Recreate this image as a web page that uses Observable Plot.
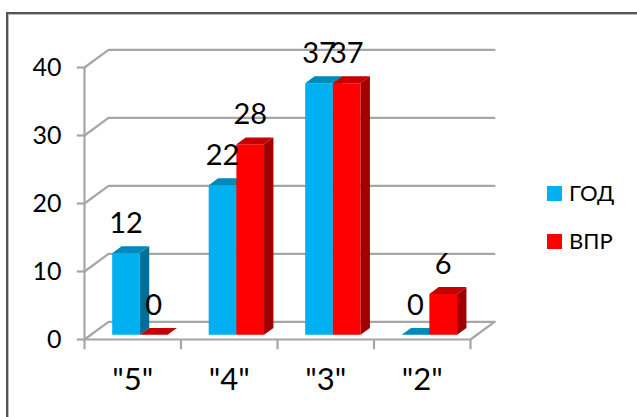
<!DOCTYPE html>
<html><head><meta charset="utf-8">
<script src="https://cdn.jsdelivr.net/npm/d3@7"></script>
<script src="https://cdn.jsdelivr.net/npm/@observablehq/plot@0.6"></script>
<style>
html,body{margin:0;padding:0;background:#fff;}
#c{width:637px;height:417px;overflow:hidden;position:relative;font-family:Lato,'Open Sans',sans-serif;}
#c svg{position:absolute;left:0;top:0;}
.f1{position:absolute;left:6px;top:12px;right:-4px;bottom:-4px;border-left:2px solid #555;border-top:2px solid #555;}
.f2{position:absolute;left:8px;top:14px;right:-4px;bottom:-4px;border-left:1px solid #bdbdbd;border-top:1px solid #bdbdbd;}
.lg{position:absolute;left:547px;display:flex;align-items:center;height:20px;font-size:22px;color:#000;line-height:20px;}
.lg i{display:block;width:15px;height:15px;margin-right:7px;}
</style></head><body><div id="c"><div class="f1"></div><div class="f2"></div></div>
<script>
const categories = ['"5"','"4"','"3"','"2"'];
const god = [12,22,37,0];
const vpr = [0,28,37,6];
const yTicks = [0,10,20,30,40];
const seriesNames = ["ГОД","ВПР"];
const colors = {
  "ГОД":{front:"#00b0f0",top:"#0089bb",side:"#006f98"},
  "ВПР":{front:"#ff0000",top:"#c60000",side:"#a00000"}
};
const gridColor = "#a6a6a6";
// depth 1 = full floor depth, expressed in data units
const depthX = 24/96.5, depthY = 17.6/6.8;
const P = (x,y,d)=>({x:x+d*depthX,y:y+d*depthY});
const poly = (id,fill,pts)=>pts.map(p=>({id,fill,...p}));
const barW = 0.287, start = 0.2197, d0 = 0.27, d1 = 0.66;

let polys = [];
const addBar=(i,s,v,name)=>{
  const x0=i+start+s*barW,x1=x0+barW,c=colors[name],id=name+i;
  if(v>0) polys.push(...poly(id+"f",c.front,[P(x0,0,d0),P(x1,0,d0),P(x1,v,d0),P(x0,v,d0)]));
  polys.push(...poly(id+"s",c.side,[P(x1,0,d0),P(x1,0,d1),P(x1,v,d1),P(x1,v,d0)]));
  polys.push(...poly(id+"t",c.top,[P(x0,v,d0),P(x1,v,d0),P(x1,v,d1),P(x0,v,d1)]));
};
categories.forEach((_,i)=>{addBar(i,0,god[i],"ГОД");addBar(i,1,vpr[i],"ВПР");});

const wall = yTicks.flatMap(v=>[
  {id:"w"+v,...P(0,v,0)},{id:"w"+v,...P(0,v,1)},{id:"w"+v,...P(4,v,1)}]);
const floorEdge = [
  {id:"fl",...P(0,0,0)},{id:"fl",...P(4,0,0)},{id:"fl",...P(4,0,1)}];
const labels = [
  ...god.map((v,i)=>({...P(i+start+barW/2,v,d0),v})),
  ...vpr.map((v,i)=>({...P(i+start+barW*1.5,v,d0),v}))
];
const xt=[0,1,2,3,4];

const chart = Plot.plot({
  width:637,height:417,marginLeft:84,marginRight:167,marginTop:67,marginBottom:78,
  x:{type:"linear",domain:[0,4],axis:null},y:{type:"linear",domain:[0,40],axis:null},
  style:{background:"transparent",fontFamily:"Lato,'Open Sans',sans-serif",overflow:"visible"},
  marks:[
    Plot.line(wall,{x:"x",y:"y",z:"id",stroke:gridColor,strokeWidth:2.2}),
    Plot.line(floorEdge,{x:"x",y:"y",z:"id",stroke:gridColor,strokeWidth:2.2}),
    Plot.ruleX([0],{y1:0,y2:40,stroke:gridColor,strokeWidth:2.2}),
    Plot.ruleY(yTicks,{x1:0,x2:-0.075,stroke:gridColor,strokeWidth:2.2}),
    Plot.ruleX(xt,{y1:0,y2:-1.5,stroke:gridColor,strokeWidth:2.2}),
    Plot.line(polys,{x:"x",y:"y",z:"id",fill:"fill",stroke:"none"}),
    Plot.text(yTicks,{x:0,y:d=>d,text:d=>String(d),dx:-23,textAnchor:"end",fontSize:25,fill:"#000"}),
    Plot.text(categories,{x:(d,i)=>i+0.5,y:0,text:d=>d,dy:41,fontSize:31,fill:"#000"}),
    Plot.text(labels,{x:"x",y:"y",text:d=>String(d.v),dy:-29.5,fontSize:29,fill:"#000"}),
  ]
});
const root=document.getElementById("c");
root.appendChild(chart);
seriesNames.forEach((n,i)=>{
  const l=document.createElement("div");
  l.className="lg";l.style.top=(183+i*48)+"px";
  l.innerHTML=`<i style="background:${colors[n].front}"></i><span>${n}</span>`;
  root.appendChild(l);
});
</script></body></html>
